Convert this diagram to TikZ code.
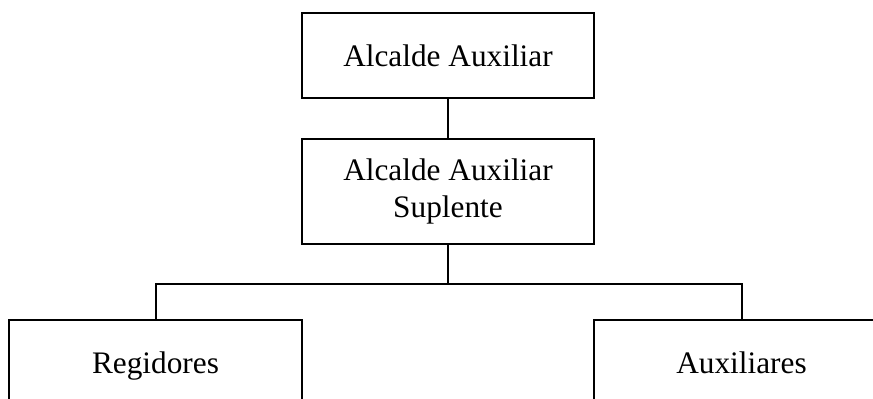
\documentclass[tikz,border=0pt]{standalone}
\usepackage{fontspec}
\setmainfont{Liberation Serif}
\usetikzlibrary{positioning}

\begin{document}
\begin{tikzpicture}[x=1pt, y=1pt,
  cargo/.style={draw, rectangle, minimum width=292pt, inner sep=0pt,
    align=center, font=\fontsize{31.3pt}{37pt}\selectfont},
  base/.style={cargo, minimum height=86pt, text height=24pt, text depth=3.3pt, anchor=north},
  line width=2pt]

  \useasboundingbox (0,0) rectangle (873,399);
  \clip (0,0) rectangle (873,399);

  \node[cargo, minimum height=85pt] (alcalde) at (448,343.5) {Alcalde Auxiliar};
  \node[cargo, minimum height=105pt, below=39pt of alcalde] (suplente) {Alcalde Auxiliar\\Suplente};
  \coordinate[below=39pt of suplente] (bus);

  \node[base, minimum width=293pt] (regidores) at (155.5,80) {Regidores};
  \node[base, minimum width=295pt] (auxiliares) at (741.5,80) {Auxiliares};

  \draw (alcalde) -- (suplente);
  \draw (suplente) -- (bus);
  \draw (regidores.north) |- (bus) -| (auxiliares.north);
\end{tikzpicture}
\end{document}
